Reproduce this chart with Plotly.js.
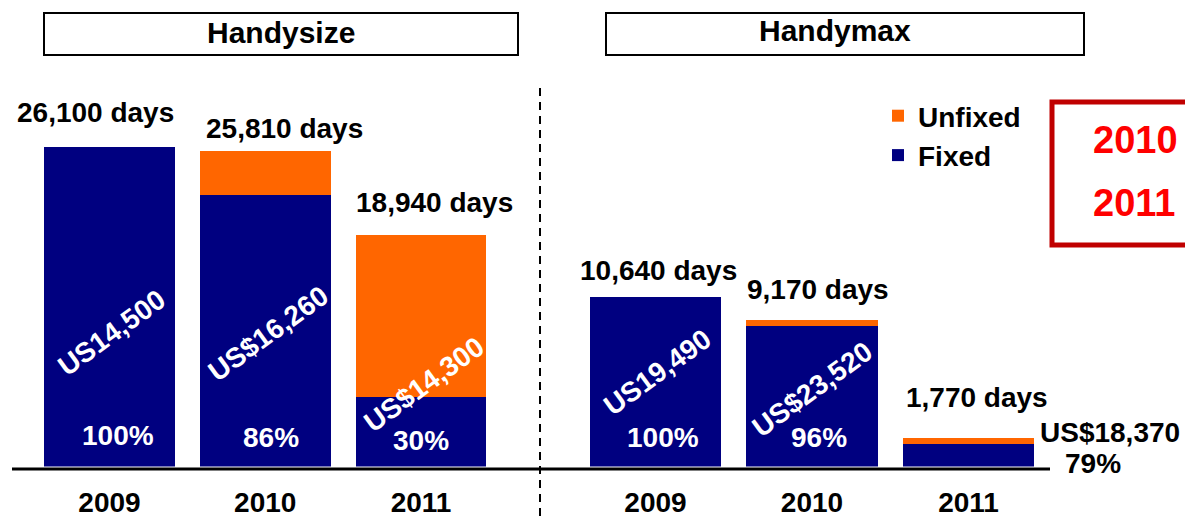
<!DOCTYPE html>
<html>
<head>
<meta charset="utf-8">
<script src="https://cdn.plot.ly/plotly-3.0.1.min.js"></script>
<style>html,body{margin:0;padding:0;background:#fff;}#chart{width:1185px;height:518px;}</style>
</head>
<body>
<div id="chart"></div>
<script>
// ---- data ----
const years = ['2009', '2010', '2011'];
const sizeFixed = [26100, 22200, 5680];
const sizeUnfixed = [0, 3610, 13260];
const maxFixed = [10640, 8800, 1400];
const maxUnfixed = [0, 370, 370];
const sizeDays = ['26,100 days', '25,810 days', '18,940 days'];
const maxDays = ['10,640 days', '9,170 days', '1,770 days'];
const sizeRate = ['US14,500', 'US$16,260', 'US$14,300'];
const maxRate = ['US19,490', 'US$23,520', 'US$18,370'];
const sizePct = ['100%', '86%', '30%'];
const maxPct = ['100%', '96%', '79%'];
const panelTitles = ['Handysize', 'Handymax'];
const highlightYears = ['2010', '2011'];

// ---- styling ----
const W = 1185, H = 518;
const navy = '#000080', orange = '#FF6600';
const FONT = 'Arial, "Liberation Sans", sans-serif';
const px = x => x / W;
const py = y => 1 - y / H;
const base = 466.5;
const pos = years.map((_, i) => i);   // category slots on the x axes

const traces = [
  {type: 'bar', x: pos, y: sizeFixed, xaxis: 'x', yaxis: 'y', name: 'Fixed',
   marker: {color: navy}, showlegend: false, hoverinfo: 'skip'},
  {type: 'bar', x: pos, y: sizeUnfixed, xaxis: 'x', yaxis: 'y', name: 'Unfixed',
   marker: {color: orange}, showlegend: false, hoverinfo: 'skip'},
  {type: 'bar', x: pos, y: maxFixed, xaxis: 'x2', yaxis: 'y2', name: 'Fixed',
   legendgroup: 'f', legendrank: 2, marker: {color: navy}, hoverinfo: 'skip'},
  {type: 'bar', x: pos, y: maxUnfixed, xaxis: 'x2', yaxis: 'y2', name: 'Unfixed',
   legendgroup: 'u', legendrank: 1, marker: {color: orange}, hoverinfo: 'skip'}
];

const tickFont = {family: FONT, size: 28, color: '#000', weight: 'bold'};
const xCommon = {type: 'linear', range: [-0.5, 2.5], tickmode: 'array', tickvals: pos, ticktext: years,
  showline: false, showgrid: false, zeroline: false, ticks: '', tickfont: tickFont,
  ticklabelstandoff: 16, fixedrange: true};
const yCommon = {showticklabels: false, showline: false, ticks: '', showgrid: false, zeroline: false,
  fixedrange: true, domain: [py(base), 1]};

const annotations = [];
const lab = (f, c) => ({family: FONT, size: f, color: c, weight: 'bold'});

// day totals
const daysDx = [[-14, 19, 13], [3, 6, 8]];
const daysDy = [[35, 22, 32], [27, 31, 41]];
[[sizeFixed, sizeUnfixed, sizeDays, 'x', 'y'], [maxFixed, maxUnfixed, maxDays, 'x2', 'y2']].forEach((p, g) => {
  pos.forEach((xi, i) => {
    annotations.push({x: xi, y: p[0][i] + p[1][i], xref: p[3], yref: p[4], text: p[2][i],
      showarrow: false, xanchor: 'center', yanchor: 'middle', xshift: daysDx[g][i], yshift: daysDy[g][i],
      font: lab(28, '#000')});
  });
});

// rates (rotated) and percentages
const rateDx = [[2.5, 3, 3], [1.5, 0, 141.5]];
const rateDy = [[134.5, 133.5, 82], [94.5, 77.5, 34.5]];
const rateAng = [[-36, -36, -36], [-36, -36, 0]];
const rateCol = [['#fff', '#fff', '#fff'], ['#fff', '#fff', '#000']];
const pctDx = [[8.5, 6, 0], [7.5, 6.5, 124.5]];
const pctDy = [[31.5, 29.5, 26.5], [29.5, 29.5, 3.5]];
const pctCol = rateCol;
[[sizeRate, sizePct, 'x', 'y'], [maxRate, maxPct, 'x2', 'y2']].forEach((p, g) => {
  pos.forEach((xi, i) => {
    annotations.push({x: xi, y: 0, xref: p[2], yref: p[3], text: p[0][i], showarrow: false,
      xanchor: 'center', yanchor: 'middle', textangle: rateAng[g][i],
      xshift: rateDx[g][i], yshift: rateDy[g][i], font: lab(28, rateCol[g][i])});
    annotations.push({x: xi, y: 0, xref: p[2], yref: p[3], text: p[1][i], showarrow: false,
      xanchor: 'center', yanchor: 'middle',
      xshift: pctDx[g][i], yshift: pctDy[g][i], font: lab(28, pctCol[g][i])});
  });
});

// panel headers
[[281, 33], [835, 31]].forEach((c, k) => {
  annotations.push({x: px(c[0]), y: py(c[1]), xref: 'paper', yref: 'paper', text: panelTitles[k],
    showarrow: false, xanchor: 'center', yanchor: 'middle', font: lab(30, '#000')});
});
// red highlighted years
[140, 203].forEach((yy, k) => {
  annotations.push({x: px(1091), y: py(yy), xref: 'paper', yref: 'paper', text: highlightYears[k],
    showarrow: false, xanchor: 'left', yanchor: 'middle', font: lab(38, '#FF0000')});
});

const shapes = [
  {type: 'rect', xref: 'paper', yref: 'paper', x0: px(44), x1: px(518), y0: py(13), y1: py(55),
   line: {color: '#000', width: 2}, fillcolor: 'rgba(0,0,0,0)'},
  {type: 'rect', xref: 'paper', yref: 'paper', x0: px(606), x1: px(1084), y0: py(13), y1: py(55),
   line: {color: '#000', width: 2}, fillcolor: 'rgba(0,0,0,0)'},
  {type: 'line', xref: 'paper', yref: 'paper', x0: px(12), x1: px(1050), y0: py(469), y1: py(469),
   line: {color: '#000', width: 3}},
  {type: 'line', xref: 'paper', yref: 'paper', x0: px(540), x1: px(540), y0: py(88), y1: py(518),
   line: {color: '#000', width: 2, dash: '8px,6px'}},
  {type: 'rect', xref: 'paper', yref: 'paper', x0: px(1052), x1: px(1215), y0: py(102), y1: py(245),
   line: {color: '#C00000', width: 5}, fillcolor: 'rgba(0,0,0,0)'}
];

const layout = {
  width: W, height: H, margin: {l: 0, r: 0, t: 0, b: 0, pad: 0},
  paper_bgcolor: '#fff', plot_bgcolor: 'rgba(0,0,0,0)',
  barmode: 'stack', bargap: 0.16,
  font: {family: FONT, color: '#000'},
  showlegend: true,
  legend: {x: px(878), y: py(91), xanchor: 'left', yanchor: 'top',
    traceorder: 'grouped', tracegroupgap: 0, itemwidth: 30,
    font: lab(28, '#000'), bgcolor: 'rgba(0,0,0,0)', borderwidth: 0},
  xaxis: Object.assign({}, xCommon, {domain: [px(31.6), px(498.9)], anchor: 'y'}),
  yaxis: Object.assign({}, yCommon, {range: [0, 38109], anchor: 'x'}),
  xaxis2: Object.assign({}, xCommon, {domain: [px(577.25), px(1046.75)], anchor: 'y2'}),
  yaxis2: Object.assign({}, yCommon, {range: [0, 29284], anchor: 'x2'}),
  annotations: annotations,
  shapes: shapes
};

Plotly.newPlot('chart', traces, layout, {staticPlot: true, displayModeBar: false});
</script>
</body>
</html>
